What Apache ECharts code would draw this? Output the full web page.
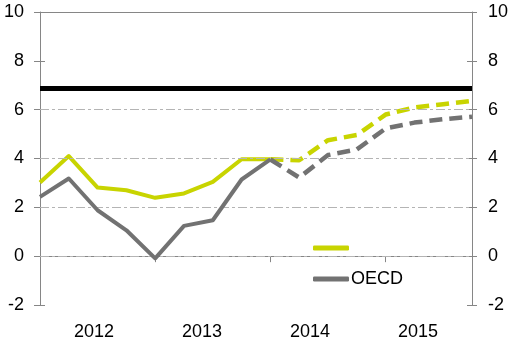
<!DOCTYPE html>
<html>
<head>
<meta charset="utf-8">
<script src="https://cdn.jsdelivr.net/npm/echarts@6/dist/echarts.min.js"></script>
<style>
html,body{margin:0;padding:0;background:#fff;}
#chart{width:521px;height:361px;}
</style>
</head>
<body>
<div id="chart"></div>
<script>
const quarters = ['2012Q1','2012Q2','2012Q3','2012Q4','2013Q1','2013Q2','2013Q3','2013Q4',
                  '2014Q1','2014Q2','2014Q3','2014Q4','2015Q1','2015Q2','2015Q3','2015Q4'];
const yearLabels = ['2012','2013','2014','2015'];
const limeValues = [3.02, 4.10, 2.81, 2.70, 2.39, 2.57, 3.04, 3.97, 3.97, 3.93, 4.75, 4.96, 5.80, 6.09, 6.22, 6.36];
const oecdValues = [2.43, 3.18, 1.88, 1.06, -0.09, 1.24, 1.47, 3.14, 3.96, 3.22, 4.14, 4.37, 5.23, 5.47, 5.61, 5.71];
const targetValues = [6.87, 6.87, 6.87, 6.87, 6.87, 6.87, 6.87, 6.87, 6.87, 6.87, 6.87, 6.87, 6.87, 6.87, 6.87, 6.87];
const forecastStart = 8;
const yTicks = [-2, 0, 2, 4, 6, 8, 10];
const gridLevels = [0, 2, 4, 6];
const limeName = ' ';
const oecdName = 'OECD';

const LIME = '#c8d400';
const GRAY = '#727272';
const AXIS = '#868686';
const FONT = 'Liberation Sans, Arial, sans-serif';
const FS = 18;

const actual = arr => arr.map((v, i) => i <= forecastStart ? v : null);
const forecast = arr => arr.map((v, i) => i >= forecastStart ? v : null);

const chart = echarts.init(document.getElementById('chart'), null, {renderer: 'canvas'});

const yBase = {
  type: 'value', min: yTicks[0], max: yTicks[yTicks.length - 1], interval: 2,
  splitLine: {show: false}
};

chart.setOption({
  animation: false,
  backgroundColor: '#fff',
  grid: {left: 40, right: 49, top: 12, bottom: 56, show: false},
  legend: {
    orient: 'vertical', left: 308, top: 234, itemGap: 13,
    itemWidth: 36, itemHeight: 5, icon: 'roundRect',
    textStyle: {fontFamily: FONT, fontSize: FS, color: '#000', padding: [0, 0, 0, -3]},
    selectedMode: false,
    data: [
      {name: limeName, itemStyle: {color: LIME}},
      {name: oecdName, itemStyle: {color: GRAY}}
    ]
  },
  xAxis: [
    {
      type: 'category', data: quarters, boundaryGap: false, position: 'bottom',
      axisLine: {show: true, lineStyle: {color: AXIS, width: 1}},
      axisTick: {show: true, interval: 3, length: 6, lineStyle: {color: AXIS}},
      axisLabel: {show: false}, splitLine: {show: false}
    },
    {
      type: 'category', data: yearLabels, boundaryGap: true, position: 'bottom', offset: 0,
      axisLine: {show: false}, axisTick: {show: false}, splitLine: {show: false},
      axisLabel: {show: true, margin: 18, fontFamily: FONT, fontSize: FS, color: '#000'}
    }
  ],
  yAxis: [
    Object.assign({}, yBase, {
      position: 'left',
      axisLine: {show: true, lineStyle: {color: AXIS, width: 1}},
      axisTick: {show: true, length: 6, lineStyle: {color: AXIS}},
      axisLabel: {show: true, margin: 16, fontFamily: FONT, fontSize: FS, color: '#000'}
    }),
    Object.assign({}, yBase, {
      position: 'right',
      axisLine: {show: true, lineStyle: {color: AXIS, width: 1}},
      axisTick: {show: true, length: 5, lineStyle: {color: AXIS}},
      axisLabel: {show: true, margin: 16, fontFamily: FONT, fontSize: FS, color: '#000'}
    }),
    Object.assign({}, yBase, {
      position: 'left', offset: 0,
      axisLine: {show: false},
      axisTick: {show: true, inside: true, length: 5, lineStyle: {color: AXIS}},
      axisLabel: {show: false}
    }),
    Object.assign({}, yBase, {
      position: 'right', offset: 0,
      axisLine: {show: false},
      axisTick: {show: true, inside: true, length: 5, lineStyle: {color: AXIS}},
      axisLabel: {show: false}
    })
  ],
  series: [
    {
      name: 'grid', type: 'line', data: [], silent: true,
      markLine: {
        silent: true, symbol: 'none', label: {show: false},
        lineStyle: {color: '#b4b4b4', width: 1, type: [9, 3, 3, 3]},
        data: gridLevels.map(v => ({yAxis: v}))
      }
    },
    {
      name: 'top', type: 'line', data: [], silent: true,
      markLine: {
        silent: true, symbol: 'none', label: {show: false},
        lineStyle: {color: AXIS, width: 1, type: 'solid'},
        data: [{yAxis: yTicks[yTicks.length - 1]}]
      }
    },
    {
      name: 'target', type: 'line', data: targetValues, symbol: 'none', z: 3,
      lineStyle: {color: '#000', width: 5, cap: 'butt'}
    },
    {
      name: limeName, type: 'line', data: actual(limeValues), symbol: 'none', z: 4,
      color: LIME,
      lineStyle: {color: LIME, width: 4, join: 'round'}
    },
    {
      name: limeName, type: 'line', data: forecast(limeValues), symbol: 'none', z: 4,
      color: LIME,
      lineStyle: {color: LIME, width: 4.5, type: [13, 7], dashOffset: 0, cap: 'butt', join: 'round'}
    },
    {
      name: oecdName, type: 'line', data: actual(oecdValues), symbol: 'none', z: 5,
      color: GRAY,
      lineStyle: {color: GRAY, width: 4, join: 'round'}
    },
    {
      name: oecdName, type: 'line', data: forecast(oecdValues), symbol: 'none', z: 5,
      color: GRAY,
      lineStyle: {color: GRAY, width: 4.5, type: [13, 7], dashOffset: 0, cap: 'butt', join: 'round'}
    }
  ]
});
</script>
</body>
</html>
